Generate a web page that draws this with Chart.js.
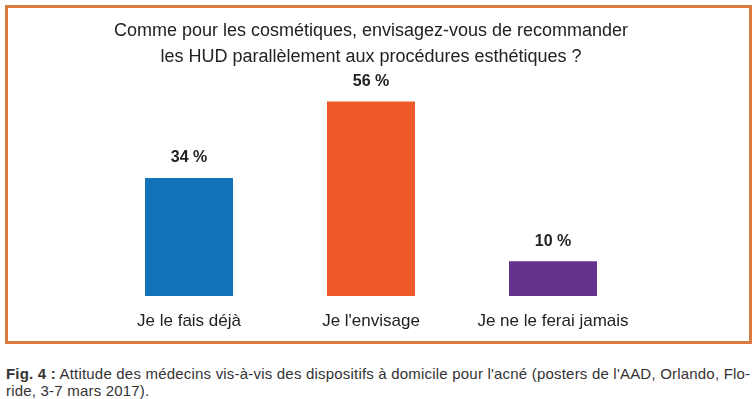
<!DOCTYPE html>
<html>
<head>
<meta charset="utf-8">
<script src="https://cdn.jsdelivr.net/npm/chart.js@4"></script>
<style>
  body { margin: 0; background: #fff; width: 756px; height: 399px; overflow: hidden; }
  #frame {
    position: absolute; left: 5px; top: 5px;
    width: 741px; height: 333px;
    border: 3px solid #da7b3f;
  }
  #caption {
    position: absolute; left: 6px; top: 365px;
    font-family: "Liberation Sans", Arial, sans-serif;
    font-size: 15px; letter-spacing: 0.2px; line-height: 17px; color: #333;
    white-space: nowrap;
  }
</style>
</head>
<body>
<div id="frame"><canvas id="chart" width="741" height="333"></canvas></div>
<div id="caption"><b>Fig. 4 :</b> Attitude des médecins vis-à-vis des dispositifs à domicile pour l'acné (posters de l'AAD, Orlando, Flo-<br>ride, 3-7 mars 2017).</div>
<script>
const categories = ['Je le fais déjà', "Je l'envisage", 'Je ne le ferai jamais']
const values = [34, 56, 10]
const barColors = ['#1273b9', '#ef5a2a', '#66318c']
const titleLines = ['Comme pour les cosmétiques, envisagez-vous de recommander', 'les HUD parallèlement aux procédures esthétiques ?']

const fontName = '"Liberation Sans", Arial, sans-serif'

// value labels above bars
const valueLabels = {
   id: 'valueLabels',
   afterDatasetsDraw(chart) {
      const ctx = chart.ctx
      const meta = chart.getDatasetMeta(0)
      ctx.save()
      ctx.font = 'bold 16px ' + fontName
      ctx.fillStyle = '#222'
      ctx.textAlign = 'center'
      ctx.textBaseline = 'middle'
      meta.data.forEach((bar, i) => {
         ctx.fillText(values[i] + ' %', bar.x, bar.y - 20)
      })
      ctx.restore()
   }
}

new Chart(document.getElementById('chart'), {
   type: 'bar',
   data: {
      labels: categories,
      datasets: [{
         data: values,
         backgroundColor: barColors,
         barPercentage: 0.4835,
         categoryPercentage: 1
      }]
   },
   options: {
      responsive: false,
      animation: false,
      layout: { padding: { left: 90, right: 105, bottom: 0 } },
      plugins: {
         legend: { display: false },
         tooltip: { enabled: false },
         title: {
            display: true,
            text: titleLines,
            color: '#222',
            font: { family: fontName, size: 18, weight: 'normal', lineHeight: 1.45 },
            padding: { top: 10, bottom: 0 }
         }
      },
      scales: {
         y: { display: false, min: 0, max: 65 },
         x: {
            afterFit(scale) { scale.height = 45 },
            grid: { display: false, drawTicks: false, tickLength: 0 },
            border: { display: false },
            ticks: { color: '#222', padding: 15, font: { family: fontName, size: 17 } }
         }
      }
   },
   plugins: [valueLabels]
});
</script>
</body>
</html>
